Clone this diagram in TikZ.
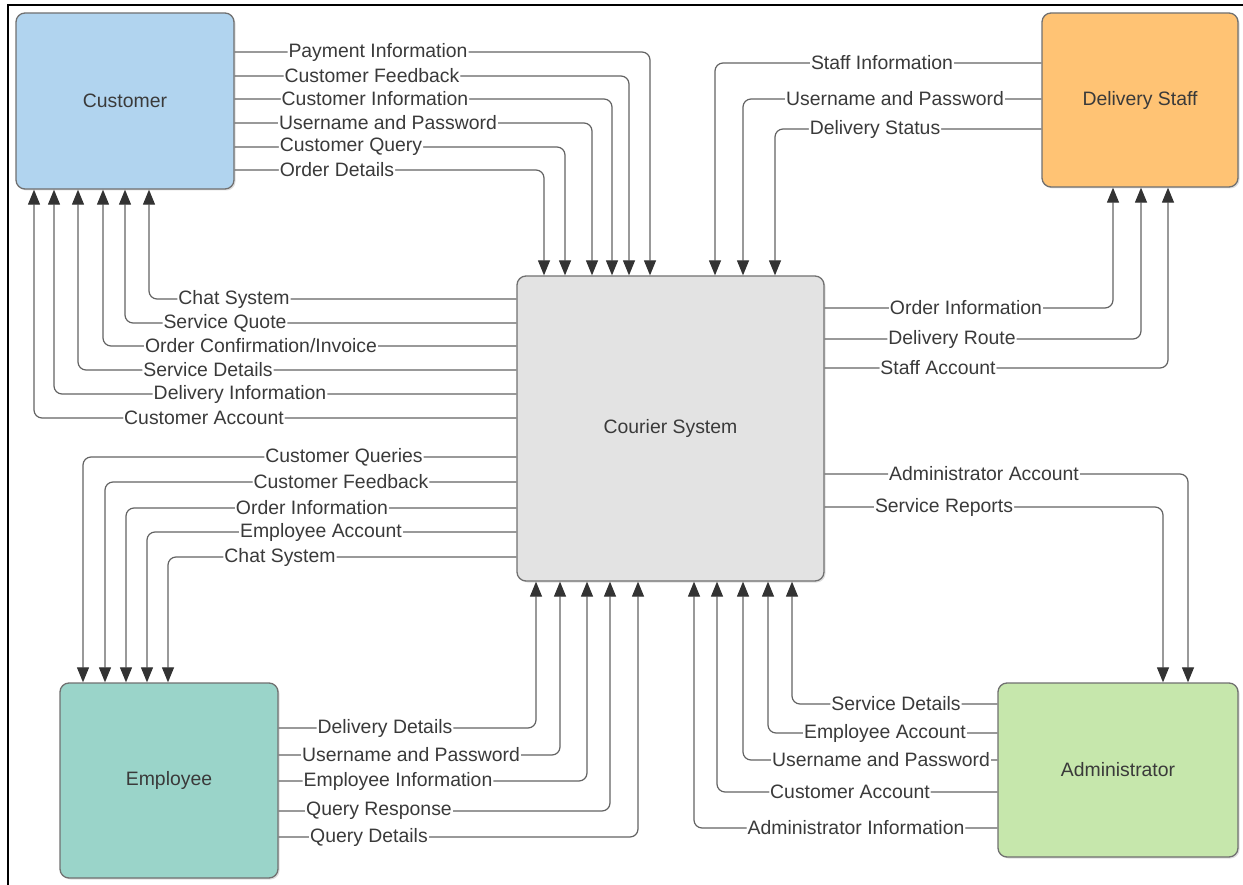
\documentclass[tikz,border=0pt]{standalone}
\usepackage{fontspec}
\setmainfont{Liberation Sans}
\usepackage{tikz}
\usetikzlibrary{arrows.meta,shadows}

\definecolor{custblue}{HTML}{B1D4EF}
\definecolor{staffor}{HTML}{FFC374}
\definecolor{sysgray}{HTML}{E3E3E3}
\definecolor{empteal}{HTML}{9AD4C9}
\definecolor{admgreen}{HTML}{C6E7AC}
\definecolor{boxline}{HTML}{707070}
\definecolor{flowline}{HTML}{636363}
\definecolor{tipdark}{HTML}{333333}
\definecolor{txt}{HTML}{3A3A3A}

\begin{document}
\begin{tikzpicture}[x=1pt, y=-1pt,
  box/.style={draw=boxline, line width=1.3pt, rounded corners=9pt, text=txt, inner sep=0pt,
    font=\fontsize{19.4}{23}\selectfont,
    drop shadow={opacity=0.25, shadow xshift=1.5pt, shadow yshift=-1.5pt}},
  flow/.style={draw=flowline, line width=1.2pt, rounded corners=8pt,
    -{Triangle[length=15pt,width=12pt,color=tipdark]}},
  lbl/.style={fill=white, text=txt, inner sep=1pt, font=\fontsize{19.4}{23}\selectfont}]
  \useasboundingbox (0,0) rectangle (1243,885);
  \draw[line width=2pt] (8,885) -- (8,5) -- (1243,5);

  % the five boxes
  \node[box, fill=custblue, minimum width=218pt, minimum height=176pt] (cust) at (125,101) {Customer};
  \node[box, fill=staffor, minimum width=196pt, minimum height=174pt] (staff) at (1140,100) {Delivery Staff};
  \node[box, fill=sysgray, minimum width=307pt, minimum height=305pt] (cs) at (670.5,428.5) {Courier System};
  \node[box, fill=empteal, minimum width=218pt, minimum height=195pt] (emp) at (169,780.5) {Employee};
  \node[box, fill=admgreen, minimum width=240pt, minimum height=174pt] (admin) at (1118,770) {Administrator};

  % customer -> courier system
  \draw[flow] (cust.east |- 0,52) -- (378,52) node[lbl]{Payment Information} -| (cs.north -| 650,0);
  \draw[flow] (cust.east |- 0,76) -- (372,76) node[lbl]{Customer Feedback} -| (cs.north -| 629,0);
  \draw[flow] (cust.east |- 0,99) -- (375,99) node[lbl]{Customer Information} -| (cs.north -| 612,0);
  \draw[flow] (cust.east |- 0,123) -- (388,123) node[lbl]{Username and Password} -| (cs.north -| 592,0);
  \draw[flow] (cust.east |- 0,147) -- (351,147) node[lbl]{Customer Query} -| (cs.north -| 565,0);
  \draw[flow] (cust.east |- 0,170) -- (337,170) node[lbl]{Order Details} -| (cs.north -| 544,0);

  % courier system -> customer
  \draw[flow] (cs.west |- 0,299) -- (234,299) node[lbl]{Chat System} -| (cust.south -| 149,0);
  \draw[flow] (cs.west |- 0,323) -- (225,323) node[lbl]{Service Quote} -| (cust.south -| 125,0);
  \draw[flow] (cs.west |- 0,346) -- (261,346) node[lbl]{Order Confirmation/Invoice} -| (cust.south -| 103,0);
  \draw[flow] (cs.west |- 0,370) -- (208,370) node[lbl]{Service Details} -| (cust.south -| 78,0);
  \draw[flow] (cs.west |- 0,394) -- (240,394) node[lbl]{Delivery Information} -| (cust.south -| 54,0);
  \draw[flow] (cs.west |- 0,418) -- (204,418) node[lbl]{Customer Account} -| (cust.south -| 34,0);

  % delivery staff <-> courier system
  \draw[flow] (staff.west |- 0,63) -- (882,63) node[lbl]{Staff Information} -| (cs.north -| 715,0);
  \draw[flow] (staff.west |- 0,99) -- (895,99) node[lbl]{Username and Password} -| (cs.north -| 743,0);
  \draw[flow] (staff.west |- 0,129) -- (875,129) node[lbl]{Delivery Status} -| (cs.north -| 775,0);
  \draw[flow] (cs.east |- 0,308) -- (966,308) node[lbl]{Order Information} -| (staff.south -| 1113,0);
  \draw[flow] (cs.east |- 0,339) -- (952,339) node[lbl]{Delivery Route} -| (staff.south -| 1141,0);
  \draw[flow] (cs.east |- 0,368) -- (938,368) node[lbl]{Staff Account} -| (staff.south -| 1168,0);

  % courier system -> employee
  \draw[flow] (cs.west |- 0,457) -- (344,457) node[lbl]{Customer Queries} -| (emp.north -| 83,0);
  \draw[flow] (cs.west |- 0,482) -- (341,482) node[lbl]{Customer Feedback} -| (emp.north -| 105,0);
  \draw[flow] (cs.west |- 0,508) -- (312,508) node[lbl]{Order Information} -| (emp.north -| 126,0);
  \draw[flow] (cs.west |- 0,532) -- (321,532) node[lbl]{Employee Account} -| (emp.north -| 147,0);
  \draw[flow] (cs.west |- 0,557) -- (280,557) node[lbl]{Chat System} -| (emp.north -| 168,0);

  % employee -> courier system
  \draw[flow] (emp.east |- 0,728) -- (385,728) node[lbl]{Delivery Details} -| (cs.south -| 536,0);
  \draw[flow] (emp.east |- 0,755) -- (411,755) node[lbl]{Username and Password} -| (cs.south -| 560,0);
  \draw[flow] (emp.east |- 0,781) -- (398,781) node[lbl]{Employee Information} -| (cs.south -| 587,0);
  \draw[flow] (emp.east |- 0,811) -- (379,811) node[lbl]{Query Response} -| (cs.south -| 610,0);
  \draw[flow] (emp.east |- 0,837) -- (369,837) node[lbl]{Query Details} -| (cs.south -| 638,0);

  % administrator <-> courier system
  \draw[flow] (cs.east |- 0,474) -- (984,474) node[lbl]{Administrator Account} -| (admin.north -| 1188,0);
  \draw[flow] (cs.east |- 0,507) -- (944,507) node[lbl]{Service Reports} -| (admin.north -| 1163,0);
  \draw[flow] (admin.west |- 0,704) -- (896,704) node[lbl]{Service Details} -| (cs.south -| 792,0);
  \draw[flow] (admin.west |- 0,733) -- (885,733) node[lbl]{Employee Account} -| (cs.south -| 768,0);
  \draw[flow] (admin.west |- 0,760) -- (881,760) node[lbl]{Username and Password} -| (cs.south -| 743,0);
  \draw[flow] (admin.west |- 0,792) -- (850,792) node[lbl]{Customer Account} -| (cs.south -| 717,0);
  \draw[flow] (admin.west |- 0,828) -- (856,828) node[lbl]{Administrator Information} -| (cs.south -| 694,0);
\end{tikzpicture}
\end{document}
